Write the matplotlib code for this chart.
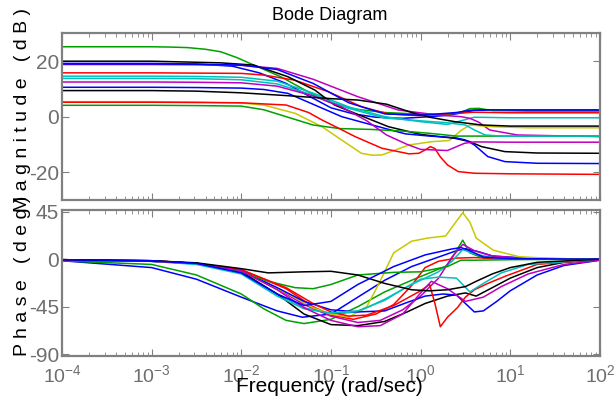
import matplotlib
matplotlib.use('Agg')
import matplotlib.pyplot as plt
import numpy as np
from matplotlib.ticker import LogLocator, NullFormatter

# Bode plots of 14 loops: frequencies as log10(rad/sec), magnitude in dB, phase in deg
b1_mag_w = [-4, -3, -2.5, -2.1, -1.8, -1.5, -1.25, -1.0, -0.75, -0.5, -0.2, 0.1, 0.3, 0.5, 0.6, 1, 2]
b1_mag = [19.2, 19.2, 19.0, 18.2, 15.8, 12.0, 7.5, 3.2, 1.0, -0.2, -0.6, 0.0, 0.5, 1.6, 2.3, 2.4, 2.4]
b1_ph_w = [-4, -3, -2.5, -2, -1.6, -1.32, -1.0, -0.7, -0.4, -0.1, 0.2, 0.4, 0.5, 0.65, 0.8, 1.2, 2]
b1_ph = [-1.5, -8, -19, -36, -49, -55, -52, -36, -20, -7, 2, 8, 10, 7, 3, 0.8, 0]

g1_mag_w = [-4, -3, -2.8, -2.6, -2.4, -2.23, -2.05, -1.86, -1.56, -1.29, -1.03, -0.75, -0.4, 0, 0.3, 0.45, 0.55, 0.65, 0.8, 1.2, 2]
g1_mag = [25.2, 25.2, 25.1, 24.9, 24.3, 23.4, 21.3, 18.6, 14.4, 9.6, 5.4, 2.8, 1.5, 0.9, 0.8, 1.6, 2.9, 3.0, 2.2, 2.0, 2.0]
g1_ph_w = [-4, -3, -2.5, -2, -1.75, -1.5, -1.3, -1.0, -0.7, -0.4, -0.1, 0.1, 0.3, 0.4, 0.47, 0.55, 0.7, 1.0, 2]
g1_ph = [-1.6, -5, -15, -33, -47, -58, -61, -57, -45, -31, -20, -13, -6, 8, 18, 6, 1, 0, 0]

r1_mag_w = [-4, -3, -2.5, -2, -1.75, -1.41, -1.03, -0.66, -0.36, 0.0, 0.38, 0.6, 1, 2]
r1_mag = [15.8, 15.8, 15.7, 15.6, 15.0, 13.2, 9.0, 3.6, 1.0, 0.4, 1.2, 1.6, 1.4, 1.4]
r1_ph_w = [-4, -3, -2.5, -2, -1.5, -1.2, -1.0, -0.75, -0.5, -0.3, -0.1, 0.05, 0.2, 0.4, 0.6, 0.8, 1.2, 2]
r1_ph = [-0.5, -1.5, -4, -10, -28, -45, -53, -57, -52, -43, -25, -8, -2, 1, 1.5, 0.8, 0.2, 0]

c1_mag_w = [-4, -3, -2.5, -2, -1.6, -1.2, -0.8, -0.4, 0.0, 0.3, 0.45, 0.6, 1.0, 2]
c1_mag = [14.6, 14.6, 14.5, 14.2, 12.8, 8.5, 3.5, 0.0, -1.8, -2.8, -1.5, -0.2, -0.4, -0.4]
c1_ph_w = [-4, -3, -2.5, -2, -1.6, -1.3, -1.0, -0.7, -0.4, -0.1, 0.2, 0.35, 0.47, 0.6, 0.8, 1.2, 2]
c1_ph = [-1, -2, -4.5, -13, -33, -46, -52, -50, -38, -24, -12, -2, 9, 5, 1.5, 0.3, 0]

m1_mag_w = [-4, -3, -2.5, -2, -1.6, -1.2, -0.7, -0.25, 0.19, 0.45, 0.55, 0.65, 0.77, 1.08, 2]
m1_mag = [18.8, 18.8, 18.7, 18.5, 17.4, 13.5, 7.2, 2.4, 0.6, 0.0, -0.6, -2.0, -4.8, -6.6, -7.2]
m1_ph_w = [-4, -3, -2.5, -2, -1.6, -1.3, -1.0, -0.7, -0.45, -0.2, 0.0, 0.2, 0.35, 0.47, 0.6, 0.8, 1.2, 2]
m1_ph = [-1, -2, -4, -11, -28, -43, -54, -60, -58, -48, -35, -18, 2, 14, 8, 3, 0.5, 0]

y1_mag_w = [-4, -3, -2.5, -2, -1.75, -1.4, -1.1, -0.9, -0.66, -0.54, -0.43, -0.13, 0.13, 0.32, 0.45, 0.55, 0.8, 1.2, 2]
y1_mag = [5.4, 5.4, 5.3, 4.9, 4.2, 1.2, -3.6, -8.0, -13.2, -13.9, -13.8, -10.2, -9.0, -8.6, -5.0, -3.0, -3.6, -4.0, -4.0]
y1_ph_w = [-4, -3, -2.5, -2, -1.5, -1.2, -1.0, -0.8, -0.6, -0.47, -0.3, -0.1, 0.08, 0.28, 0.4, 0.47, 0.55, 0.62, 0.81, 1.1, 1.5, 2]
y1_ph = [-1, -2, -4, -12, -32, -46, -52, -55, -45, -24, 6, 17, 20, 22, 36, 44, 35, 20, 8.5, 2.3, 0.5, 0]

k1_mag_w = [-4, -3, -2.23, -1.86, -1.48, -1.18, -0.96, -0.73, -0.36, 0.0, 0.38, 0.55, 0.68, 0.94, 1.3, 2]
k1_mag = [20.0, 20.0, 19.4, 18.6, 14.4, 9.6, 4.2, 1.2, -3.6, -6.4, -7.8, -9.0, -10.8, -12.6, -13.1, -13.2]
k1_ph_w = [-4, -3, -2.5, -2, -1.6, -1.3, -1.0, -0.7, -0.4, -0.15, 0.05, 0.3, 0.5, 0.62, 0.8, 1.0, 1.3, 1.6, 2]
k1_ph = [-1, -2, -4, -12, -33, -52, -62, -63, -59, -50, -42, -35, -32, -35, -27, -18, -8, -3, -0.5]

b2_mag_w = [-4, -3, -2.5, -2, -1.75, -1.48, -1.18, -0.88, -0.54, -0.17, 0.1, 0.39, 0.5, 0.6, 0.75, 0.94, 1.3, 2]
b2_mag = [10.6, 10.6, 10.5, 10.3, 9.8, 8.4, 4.2, 0.0, -3.0, -6.2, -7.0, -7.6, -8.4, -10.2, -14.4, -16.2, -16.8, -16.9]
b2_ph_w = [-4, -3, -2.5, -2, -1.6, -1.3, -1.0, -0.7, -0.4, -0.15, 0.05, 0.25, 0.4, 0.5, 0.6, 0.7, 0.85, 1.0, 1.3, 1.6, 2]
b2_ph = [-1, -2, -4, -11, -27, -40, -48, -50, -49, -41, -35, -33, -34, -42, -50, -49, -40, -30, -15, -6, -1]

g2_mag_w = [-4, -3, -2.5, -2, -1.75, -1.5, -1.2, -0.9, -0.55, -0.2, 0.1, 0.4, 0.7, 1.0, 2]
g2_mag = [4.1, 4.1, 4.0, 3.8, 2.5, 0.0, -3.0, -4.3, -4.6, -5.2, -6.0, -7.0, -7.0, -7.0, -7.0]
g2_ph_w = [-4, -3, -2.5, -2, -1.7, -1.4, -1.2, -1.0, -0.7, -0.3, 0.0, 0.3, 0.45, 0.6, 1.0, 2]
g2_ph = [-0.5, -1.5, -4, -12, -21, -27, -28, -24, -15, -12.5, -12, -7, -1, -1, -0.5, 0]

r2_mag_w = [-4, -3, -2.5, -2, -1.5, -1.25, -1.1, -0.9, -0.73, -0.43, -0.13, -0.02, 0.05, 0.11, 0.16, 0.22, 0.3, 0.42, 0.6, 1.0, 2]
r2_mag = [5.2, 5.2, 5.1, 5.0, 4.2, 1.5, -1.2, -4.4, -7.2, -11.4, -13.4, -13.2, -12.0, -10.8, -11.5, -14.5, -17.4, -19.8, -20.4, -20.6, -20.8]
r2_ph_w = [-4, -3, -2.5, -2, -1.5, -1.2, -1, -0.8, -0.6, -0.3, 0.0, 0.1, 0.16, 0.22, 0.3, 0.41, 0.5, 0.6, 0.75, 0.95, 1.3, 2]
r2_ph = [-0.5, -1.5, -4, -10, -27, -42, -50, -54, -53, -44, -30, -24, -42, -64, -55, -46, -36, -29, -23, -16, -5, 0]

c2_mag_w = [-4, -3, -2.5, -2, -1.6, -1.2, -0.8, -0.4, 0.0, 0.3, 0.5, 0.6, 0.72, 0.9, 2]
c2_mag = [13.8, 13.8, 13.7, 13.3, 11.8, 7.8, 3.0, -0.5, -1.5, -2.2, -3.0, -4.8, -6.6, -7.0, -7.0]
c2_ph_w = [-4, -3, -2.5, -2, -1.6, -1.3, -1.0, -0.7, -0.4, -0.15, 0.0, 0.2, 0.4, 0.55, 0.7, 0.9, 1.2, 2]
c2_ph = [-1, -2, -5, -14, -35, -47, -51, -49, -39, -26, -19, -17, -18, -31, -23, -13, -5, 0]

m2_mag_w = [-4, -3, -2.5, -2, -1.6, -1.2, -0.88, -0.6, -0.38, -0.15, 0.0, 0.3, 0.49, 0.6, 1.0, 2]
m2_mag = [12.5, 12.5, 12.4, 12.2, 11.0, 7.5, 3.5, -1.5, -6.6, -10.0, -11.8, -12.2, -9.6, -9.1, -9.2, -9.2]
m2_ph_w = [-4, -3, -2.5, -2, -1.6, -1.3, -1.0, -0.7, -0.45, -0.2, 0.0, 0.12, 0.3, 0.5, 0.7, 0.9, 1.2, 1.6, 2]
m2_ph = [-1, -2, -4, -11, -29, -46, -58, -64, -63, -52, -32, -21, -28, -40, -36, -26, -14, -5, -1]

k2_mag_w = [-4, -3, -2.5, -2, -1.5, -1, -0.7, -0.38, -0.1, 0.1, 0.38, 0.68, 1, 2]
k2_mag = [9.4, 9.4, 9.2, 8.6, 7.6, 6.5, 6.0, 4.5, 1.5, -0.2, -1.8, -3.0, -3.4, -3.4]
k2_ph_w = [-4, -3, -2.5, -2, -1.7, -1.3, -1.0, -0.7, -0.4, -0.1, 0.1, 0.3, 0.5, 0.62, 0.8, 1.0, 1.3, 2]
k2_ph = [-0.5, -1.5, -3.5, -9, -13, -12, -11.5, -15, -23, -29, -30, -29, -26, -21, -14, -8, -3, 0]

b3_mag_w = [-4, -3, -2.5, -2, -1.6, -1.2, -0.8, -0.4, 0.0, 0.4, 0.55, 0.7, 1, 2]
b3_mag = [19.0, 19.0, 18.9, 18.6, 17.0, 12.0, 5.0, 1.0, 0.5, 1.5, 2.3, 2.5, 2.4, 2.4]
b3_ph_w = [-4, -3, -2.5, -2, -1.6, -1.3, -1.0, -0.7, -0.3, 0.05, 0.34, 0.45, 0.55, 0.7, 1.0, 2]
b3_ph = [-0.5, -1.5, -4, -13, -33, -44, -40, -24, -7, 4, 9.5, 11, 8, 2, 0.5, 0]

# MATLAB-like line colours
BLUE, GREEN, RED = '#0000ff', '#00a000', '#ff0000'
CYAN, MAGENTA, YELLOW, BLACK = '#00bfbf', '#bf00bf', '#c8c800', '#000000'

loops = [
    (BLUE, b1_mag_w, b1_mag, b1_ph_w, b1_ph),
    (GREEN, g1_mag_w, g1_mag, g1_ph_w, g1_ph),
    (RED, r1_mag_w, r1_mag, r1_ph_w, r1_ph),
    (CYAN, c1_mag_w, c1_mag, c1_ph_w, c1_ph),
    (MAGENTA, m1_mag_w, m1_mag, m1_ph_w, m1_ph),
    (YELLOW, y1_mag_w, y1_mag, y1_ph_w, y1_ph),
    (BLACK, k1_mag_w, k1_mag, k1_ph_w, k1_ph),
    (BLUE, b2_mag_w, b2_mag, b2_ph_w, b2_ph),
    (GREEN, g2_mag_w, g2_mag, g2_ph_w, g2_ph),
    (RED, r2_mag_w, r2_mag, r2_ph_w, r2_ph),
    (CYAN, c2_mag_w, c2_mag, c2_ph_w, c2_ph),
    (MAGENTA, m2_mag_w, m2_mag, m2_ph_w, m2_ph),
    (BLACK, k2_mag_w, k2_mag, k2_ph_w, k2_ph),
    (BLUE, b3_mag_w, b3_mag, b3_ph_w, b3_ph),
]

mag_ticks = [20, 0, -20]
mag_ticklabels = ['20', '0', '-20']
ph_ticks = [45, 0, -45, -90]
ph_ticklabels = ['45', '0', '-45', '-90']
decades = [-4, -3, -2, -1, 0, 1, 2]

plt.rcParams['font.family'] = ['Liberation Sans', 'DejaVu Sans']
plt.rcParams['mathtext.fontset'] = 'custom'
plt.rcParams['mathtext.rm'] = 'Liberation Sans'
plt.rcParams['mathtext.it'] = 'Liberation Sans:italic'

frame_col = '#808080'
label_col = '#6e6e6e'

fig = plt.figure(figsize=(6.14, 4.03), dpi=100)
ax_mag = fig.add_axes([0.101, 0.504, 0.876, 0.413])
ax_ph = fig.add_axes([0.101, 0.117, 0.876, 0.362])

for col, mw, mv, pw, pv in loops:
    ax_mag.plot(10.0 ** np.array(mw), mv, color=col, lw=1.1)
    ax_ph.plot(10.0 ** np.array(pw), pv, color=col, lw=1.1)

for ax in (ax_mag, ax_ph):
    ax.set_xscale('log')
    ax.set_xlim(1e-4, 1e2)
    ax.xaxis.set_major_locator(LogLocator(base=10, numticks=20))
    ax.xaxis.set_minor_locator(LogLocator(base=10, subs=np.arange(2, 10), numticks=20))
    ax.xaxis.set_minor_formatter(NullFormatter())
    for s in ax.spines.values():
        s.set_color(frame_col)
        s.set_linewidth(1.6)
    ax.tick_params(which='both', direction='in', top=True, right=True,
                   color=frame_col, labelcolor=label_col, labelsize=15, pad=2)
    ax.tick_params(which='major', length=5, width=0.8)
    ax.tick_params(which='minor', length=3, width=0.6)

ax_mag.set_ylim(-30, 30)
ax_mag.set_yticks(mag_ticks)
ax_mag.set_yticklabels(mag_ticklabels)
ax_mag.set_xticks([10.0 ** d for d in decades])
ax_mag.set_xticklabels([])

ax_ph.set_ylim(-91.6, 46.6)
ax_ph.set_yticks(ph_ticks)
ax_ph.set_yticklabels(ph_ticklabels)
ax_ph.set_xticks([10.0 ** d for d in decades])
ax_ph.set_xticklabels([r'$\mathregular{10^{%d}}$' % d for d in decades])
ax_ph.tick_params(axis='x', pad=6, labelsize=14)

fig.text(0.537, 0.962, 'Bode Diagram', ha='center', va='center', fontsize=13, color='black')
fig.text(0.537, 0.042, 'Frequency (rad/sec)', ha='center', va='center', fontsize=15, color='black')
fig.text(0.036, 0.727, 'M a g n i t u d e   ( d B )', rotation=90, ha='center', va='center',
         fontsize=14, color='black')
fig.text(0.036, 0.315, 'P h a s e   ( d e g )', rotation=90, ha='center', va='center',
         fontsize=14, color='black')

fig.savefig('out.png', dpi=100, facecolor='white')
